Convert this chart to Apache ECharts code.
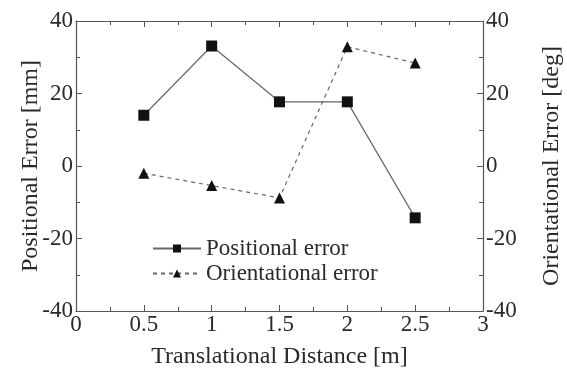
<!DOCTYPE html>
<html>
<head>
<meta charset="UTF-8">
<script src="https://cdn.jsdelivr.net/npm/echarts@6/dist/echarts.min.js"></script>
<style>
  body { margin: 0; background: #fff; }
  #chart { width: 567px; height: 371px; }
</style>
</head>
<body>
<div id="chart"></div>
<script>
  // distances [m]
  var distances = [0.5, 1, 1.5, 2, 2.5];
  // positional error [mm]
  var positionalError = [14, 33.1, 17.7, 17.7, -14.3];
  // orientational error [deg]
  var orientationalError = [-2, -5.4, -8.8, 32.9, 28.4];

  var font = 'Liberation Serif';
  var ink = '#2a2a2a';
  var axisColor = '#555';

  function pairs(xs, ys) {
    return xs.map(function (x, i) { return [x, ys[i]]; });
  }

  var chart = echarts.init(document.getElementById('chart'));

  var tickStyle = { inside: true, length: 6, lineStyle: { color: axisColor } };
  var minorStyle = { show: true, splitNumber: 2, length: 4, lineStyle: { color: axisColor } };
  var lineStyleAxis = { show: true, onZero: false, lineStyle: { color: axisColor, width: 1.2 } };

  var yCommon = {
    type: 'value', min: -40, max: 40, interval: 20,
    axisLine: lineStyleAxis,
    axisTick: tickStyle,
    minorTick: minorStyle,
    splitLine: { show: false },
    nameLocation: 'middle',
    nameMoveOverlap: false,
    nameTextStyle: { fontFamily: font, fontSize: 24, color: ink },
    axisLabel: { fontFamily: font, fontSize: 23, color: ink, margin: 3 }
  };

  chart.setOption({
    animation: false,
    grid: { left: 76, right: 84, top: 21, bottom: 60, outerBoundsMode: 'none' },
    legend: {
      orient: 'vertical', left: 152, top: 237, itemGap: 2, padding: 0,
      itemWidth: 48, itemHeight: 10,
      textStyle: { fontFamily: font, fontSize: 23, color: ink },
      data: ['Positional error', 'Orientational error']
    },
    xAxis: [{
      type: 'value', min: 0, max: 3, interval: 0.5,
      name: 'Translational Distance [m]', nameLocation: 'middle', nameGap: 34,
      nameMoveOverlap: false,
      nameTextStyle: { fontFamily: font, fontSize: 24, color: ink },
      axisLine: lineStyleAxis,
      axisTick: tickStyle,
      minorTick: minorStyle,
      splitLine: { show: false },
      axisLabel: { fontFamily: font, fontSize: 23, color: ink, margin: 2 }
    }, {
      type: 'value', min: 0, max: 3, interval: 0.5, position: 'top',
      axisLine: lineStyleAxis,
      axisTick: tickStyle,
      minorTick: minorStyle,
      splitLine: { show: false },
      axisLabel: { show: false }
    }],
    yAxis: [
      Object.assign({}, yCommon, { position: 'left', name: 'Positional Error [mm]', nameGap: 33 }),
      Object.assign({}, yCommon, { position: 'right', name: 'Orientational Error [deg]', nameGap: 57 })
    ],
    series: [{
      name: 'Positional error', type: 'line',
      data: pairs(distances, positionalError),
      symbol: 'rect', symbolSize: 11,
      lineStyle: { color: '#666', width: 1.2 },
      itemStyle: { color: '#111' }
    }, {
      name: 'Orientational error', type: 'line', yAxisIndex: 1,
      data: pairs(distances, orientationalError),
      symbol: 'triangle', symbolSize: 11,
      lineStyle: { color: '#666', width: 1.2, type: [4, 4] },
      itemStyle: { color: '#111' }
    }]
  });
</script>
</body>
</html>
